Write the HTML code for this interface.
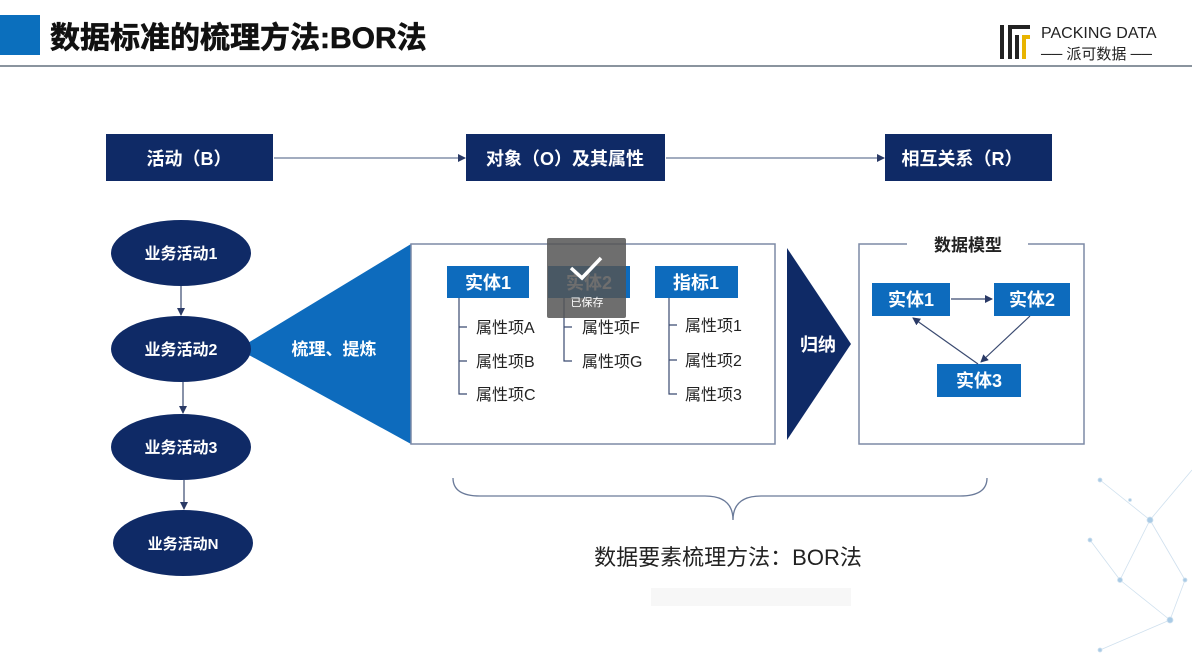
<!DOCTYPE html>
<html><head><meta charset="utf-8"><style>
body{margin:0;width:1192px;height:671px;overflow:hidden;background:#fff;font-family:"Liberation Sans","Noto Sans CJK SC",sans-serif;}
svg{position:absolute;left:0;top:0}
text{font-family:"Liberation Sans","Noto Sans CJK SC",sans-serif}
</style></head><body>
<svg width="1192" height="671" viewBox="0 0 1192 671">
<defs>
<marker id="a" markerWidth="8" markerHeight="8" refX="7" refY="4" orient="auto" markerUnits="userSpaceOnUse"><path d="M0,0 L8,4 L0,8 z" fill="#2a3a66"/></marker>
</defs>
<rect x="0" y="15" width="40" height="40" fill="#0b6fbd"/>
<text x="50" y="48" font-size="30" font-weight="bold" fill="#111" stroke="#111" stroke-width="0.6">数据标准的梳理方法:BOR法</text>
<rect x="0" y="65" width="1192" height="2" fill="#8a949e"/>
<rect x="1000" y="25" width="4" height="34" fill="#222"/>
<rect x="1008" y="25" width="22" height="4" fill="#222"/>
<rect x="1008" y="29" width="4" height="30" fill="#222"/>
<rect x="1015" y="35" width="4" height="24" fill="#222"/>
<rect x="1022" y="35" width="8" height="4" fill="#e8b400"/>
<rect x="1022" y="39" width="4" height="20" fill="#e8b400"/>
<text x="1041" y="38" font-size="16" fill="#222">PACKING DATA</text>
<text x="1041" y="59" font-size="15" fill="#222">── 派可数据 ──</text>
<rect x="106" y="134" width="167" height="47" fill="#0f2a66"/>
<text x="189" y="165" font-size="18" font-weight="bold" fill="#fff" text-anchor="middle">活动（B）</text>
<rect x="466" y="134" width="199" height="47" fill="#0f2a66"/>
<text x="565" y="165" font-size="18" font-weight="bold" fill="#fff" text-anchor="middle">对象（O）及其属性</text>
<rect x="885" y="134" width="167" height="47" fill="#0f2a66"/>
<text x="962" y="165" font-size="18" font-weight="bold" fill="#fff" text-anchor="middle">相互关系（R）</text>
<line x1="274" y1="158" x2="465" y2="158" stroke="#6a7a99" stroke-width="1.2" marker-end="url(#a)"/>
<line x1="666" y1="158" x2="884" y2="158" stroke="#6a7a99" stroke-width="1.2" marker-end="url(#a)"/>
<polygon points="238,349 411,244 411,444" fill="#0d6bbd"/>
<text x="334" y="355" font-size="17" font-weight="bold" fill="#fff" text-anchor="middle">梳理、提炼</text>
<g fill="#0f2a66">
<ellipse cx="181" cy="253" rx="70" ry="33"/>
<ellipse cx="181" cy="349" rx="70" ry="33"/>
<ellipse cx="181" cy="447" rx="70" ry="33"/>
<ellipse cx="183" cy="543" rx="70" ry="33"/>
</g>
<g font-size="16" font-weight="bold" fill="#fff" text-anchor="middle">
<text x="181" y="259">业务活动1</text>
<text x="181" y="355">业务活动2</text>
<text x="181" y="453">业务活动3</text>
<text x="183" y="549" font-size="15">业务活动N</text>
</g>
<g stroke="#3a4a70" stroke-width="1.2">
<line x1="181" y1="286" x2="181" y2="315" marker-end="url(#a)"/>
<line x1="183" y1="382" x2="183" y2="413" marker-end="url(#a)"/>
<line x1="184" y1="480" x2="184" y2="509" marker-end="url(#a)"/>
</g>
<rect x="411" y="244" width="364" height="200" fill="none" stroke="#7d8aa6" stroke-width="1.5"/>
<rect x="447" y="266" width="82" height="32" fill="#0d6bbd"/>
<rect x="548" y="266" width="82" height="32" fill="#0d6bbd"/>
<rect x="655" y="266" width="83" height="32" fill="#0d6bbd"/>
<g font-size="18" font-weight="bold" fill="#fff" text-anchor="middle">
<text x="488" y="289">实体1</text><text x="589" y="289">实体2</text><text x="696" y="289">指标1</text>
</g>
<g stroke="#3a4a70" stroke-width="1.2" fill="none">
<path d="M459,298 V394 H467 M459,327 H467 M459,361 H467"/>
<path d="M564,298 V361 H572 M564,327 H572"/>
<path d="M669,298 V394 H677 M669,325 H677 M669,360 H677"/>
</g>
<g font-size="16" fill="#222">
<text x="476" y="333">属性项A</text><text x="476" y="367">属性项B</text><text x="476" y="400">属性项C</text>
<text x="582" y="333">属性项F</text><text x="582" y="367">属性项G</text>
<text x="685" y="331">属性项1</text><text x="685" y="366">属性项2</text><text x="685" y="400">属性项3</text>
</g>
<rect x="547" y="238" width="79" height="80" rx="2" fill="rgba(85,85,85,0.85)"/>
<path d="M571,268 L582,278 L601,258" stroke="#fff" stroke-width="3.5" fill="none"/>
<text x="587" y="306" font-size="11" fill="#fff" text-anchor="middle">已保存</text>
<polygon points="787,248 851,344 787,440" fill="#0f2a66"/>
<text x="818" y="351" font-size="18" font-weight="bold" fill="#fff" text-anchor="middle">归纳</text>
<path d="M907,244 H859 V444 H1084 V244 H1028" fill="none" stroke="#7d8aa6" stroke-width="1.5"/>
<text x="968" y="251" font-size="17" font-weight="bold" fill="#222" text-anchor="middle">数据模型</text>
<rect x="872" y="283" width="78" height="33" fill="#0d6bbd"/>
<rect x="994" y="283" width="76" height="33" fill="#0d6bbd"/>
<rect x="937" y="364" width="84" height="33" fill="#0d6bbd"/>
<g font-size="18" font-weight="bold" fill="#fff" text-anchor="middle">
<text x="911" y="306">实体1</text><text x="1032" y="306">实体2</text><text x="979" y="387">实体3</text>
</g>
<g stroke="#3a4a70" stroke-width="1.2">
<line x1="951" y1="299" x2="992" y2="299" marker-end="url(#a)"/>
<line x1="1030" y1="316" x2="981" y2="362" marker-end="url(#a)"/>
<line x1="978" y1="364" x2="913" y2="318" marker-end="url(#a)"/>
</g>
<path d="M453,478 Q453,496 480,496 H705 Q733,496 733,520 Q733,496 761,496 H960 Q987,496 987,478" fill="none" stroke="#6a7a99" stroke-width="1.3"/>
<text x="728" y="565" font-size="22" fill="#222" text-anchor="middle">数据要素梳理方法：BOR法</text>
<rect x="651" y="588" width="200" height="18" fill="#f7f7f7"/>
<g stroke="#cfe0ee" stroke-width="0.8" fill="#a9cbe6">
<line x1="1100" y1="480" x2="1150" y2="520"/><line x1="1150" y1="520" x2="1192" y2="470"/>
<line x1="1150" y1="520" x2="1120" y2="580"/><line x1="1120" y1="580" x2="1170" y2="620"/>
<line x1="1170" y1="620" x2="1100" y2="650"/><line x1="1150" y1="520" x2="1185" y2="580"/>
<line x1="1185" y1="580" x2="1170" y2="620"/><line x1="1090" y1="540" x2="1120" y2="580"/>
<circle cx="1100" cy="480" r="2"/><circle cx="1150" cy="520" r="3"/><circle cx="1120" cy="580" r="2.5"/>
<circle cx="1170" cy="620" r="3"/><circle cx="1185" cy="580" r="2"/><circle cx="1090" cy="540" r="2"/>
<circle cx="1100" cy="650" r="2"/><circle cx="1130" cy="500" r="1.5"/>
</g>
</svg>
</body></html>
